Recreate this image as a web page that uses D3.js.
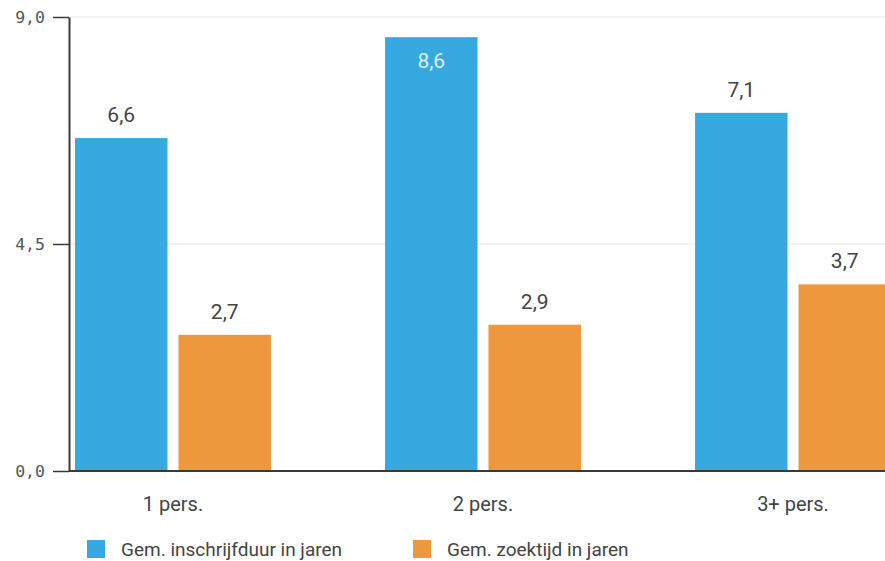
<!DOCTYPE html>
<html>
<head>
<meta charset="utf-8">
<script src="https://cdn.jsdelivr.net/npm/d3@7"></script>
<style>
  html, body { margin: 0; padding: 0; background: #fff; overflow: hidden; }
  svg { display: block; }
</style>
</head>
<body>
<svg id="chart" width="885" height="561"></svg>
<script>
// Household size groups and the two averages per group (years)
const categories = ["1 pers.", "2 pers.", "3+ pers."];
const seriesNames = ["Gem. inschrijfduur in jaren", "Gem. zoektijd in jaren"];
const inschrijfduur = [6.6, 8.6, 7.1];
const zoektijd = [2.7, 2.9, 3.7];
const yTicks = [0, 4.5, 9];
const colors = ["#36a9e1", "#ed983d"];

const seriesValues = [inschrijfduur, zoektijd];
const rows = categories.map((c, i) => ({
  cat: c,
  values: seriesNames.map((s, j) => ({ series: s, idx: j, value: seriesValues[j][i] }))
}));

const svg = d3.select("#chart");
const plotLeft = 69, plotTop = 17, plotBottom = 471, plotRight = 897;
const fmt = v => d3.format(".1f")(v).replace(".", ",");

const y = d3.scaleLinear().domain([0, 9]).range([plotBottom, plotTop]);
const x0 = d3.scaleBand().domain(categories).range([plotLeft, plotRight])
  .paddingInner(0.368).paddingOuter(0.0194);
const x1 = d3.scaleBand().domain(seriesNames).range([0, x0.bandwidth()]).paddingInner(0.106);

// Light gridlines
svg.append("g").selectAll("line").data(yTicks.filter(t => t > 0)).join("line")
  .attr("x1", plotLeft).attr("x2", 885)
  .attr("y1", d => y(d)).attr("y2", d => y(d))
  .attr("stroke", "#e6e6e6").attr("stroke-width", 1);

// Bars
const groups = svg.append("g").selectAll("g").data(rows).join("g")
  .attr("transform", d => `translate(${x0(d.cat)},0)`);

groups.selectAll("rect").data(d => d.values).join("rect")
  .attr("x", d => x1(d.series))
  .attr("width", x1.bandwidth())
  .attr("y", d => y(d.value))
  .attr("height", d => y(0) - y(d.value))
  .attr("fill", d => colors[d.idx]);

// Value labels: above the bar, or inside when the bar nearly reaches the top
groups.selectAll("text").data(d => d.values).join("text")
  .attr("x", d => x1(d.series) + x1.bandwidth() / 2)
  .attr("y", d => y(d.value) > 60 ? y(d.value) - 16 : y(d.value) + 31)
  .attr("text-anchor", "middle")
  .attr("font-family", "Roboto, sans-serif")
  .attr("font-size", 21)
  .attr("fill", d => y(d.value) > 60 ? "#444" : "#dff0fa")
  .text(d => fmt(d.value));

// Baseline
svg.append("line")
  .attr("x1", plotLeft).attr("x2", 885)
  .attr("y1", y(0)).attr("y2", y(0))
  .attr("stroke", "#3b3a30").attr("stroke-width", 2);

// Y axis
const yAxis = svg.append("g").attr("transform", `translate(${plotLeft},0)`)
  .call(d3.axisLeft(y).tickValues(yTicks).tickFormat(fmt).tickSize(16).tickSizeOuter(0).tickPadding(8));
yAxis.select(".domain").attr("stroke", "#3b3a30").attr("stroke-width", 2);
yAxis.selectAll(".tick line").attr("stroke", "#3b3a30").attr("stroke-width", 1.5);
yAxis.selectAll(".tick text")
  .attr("font-family", "'DejaVu Sans Mono', monospace")
  .attr("font-size", 16.5)
  .attr("fill", "#555");

// Category labels
svg.append("g").selectAll("text").data(categories).join("text")
  .attr("x", d => x0(d) + x0.bandwidth() / 2)
  .attr("y", 511)
  .attr("text-anchor", "middle")
  .attr("font-family", "Roboto, sans-serif")
  .attr("font-size", 20)
  .attr("fill", "#444")
  .text(d => d);

// Legend
const legendX = [87, 413];
const legend = svg.append("g").selectAll("g").data(seriesNames).join("g")
  .attr("transform", (d, i) => `translate(${legendX[i]},540)`);
legend.append("rect").attr("width", 18).attr("height", 18)
  .attr("fill", (d, i) => colors[i]);
legend.append("text").attr("x", 34).attr("y", 16)
  .attr("font-family", "Roboto, sans-serif")
  .attr("font-size", 19)
  .attr("fill", "#444")
  .text(d => d);
</script>
</body>
</html>
